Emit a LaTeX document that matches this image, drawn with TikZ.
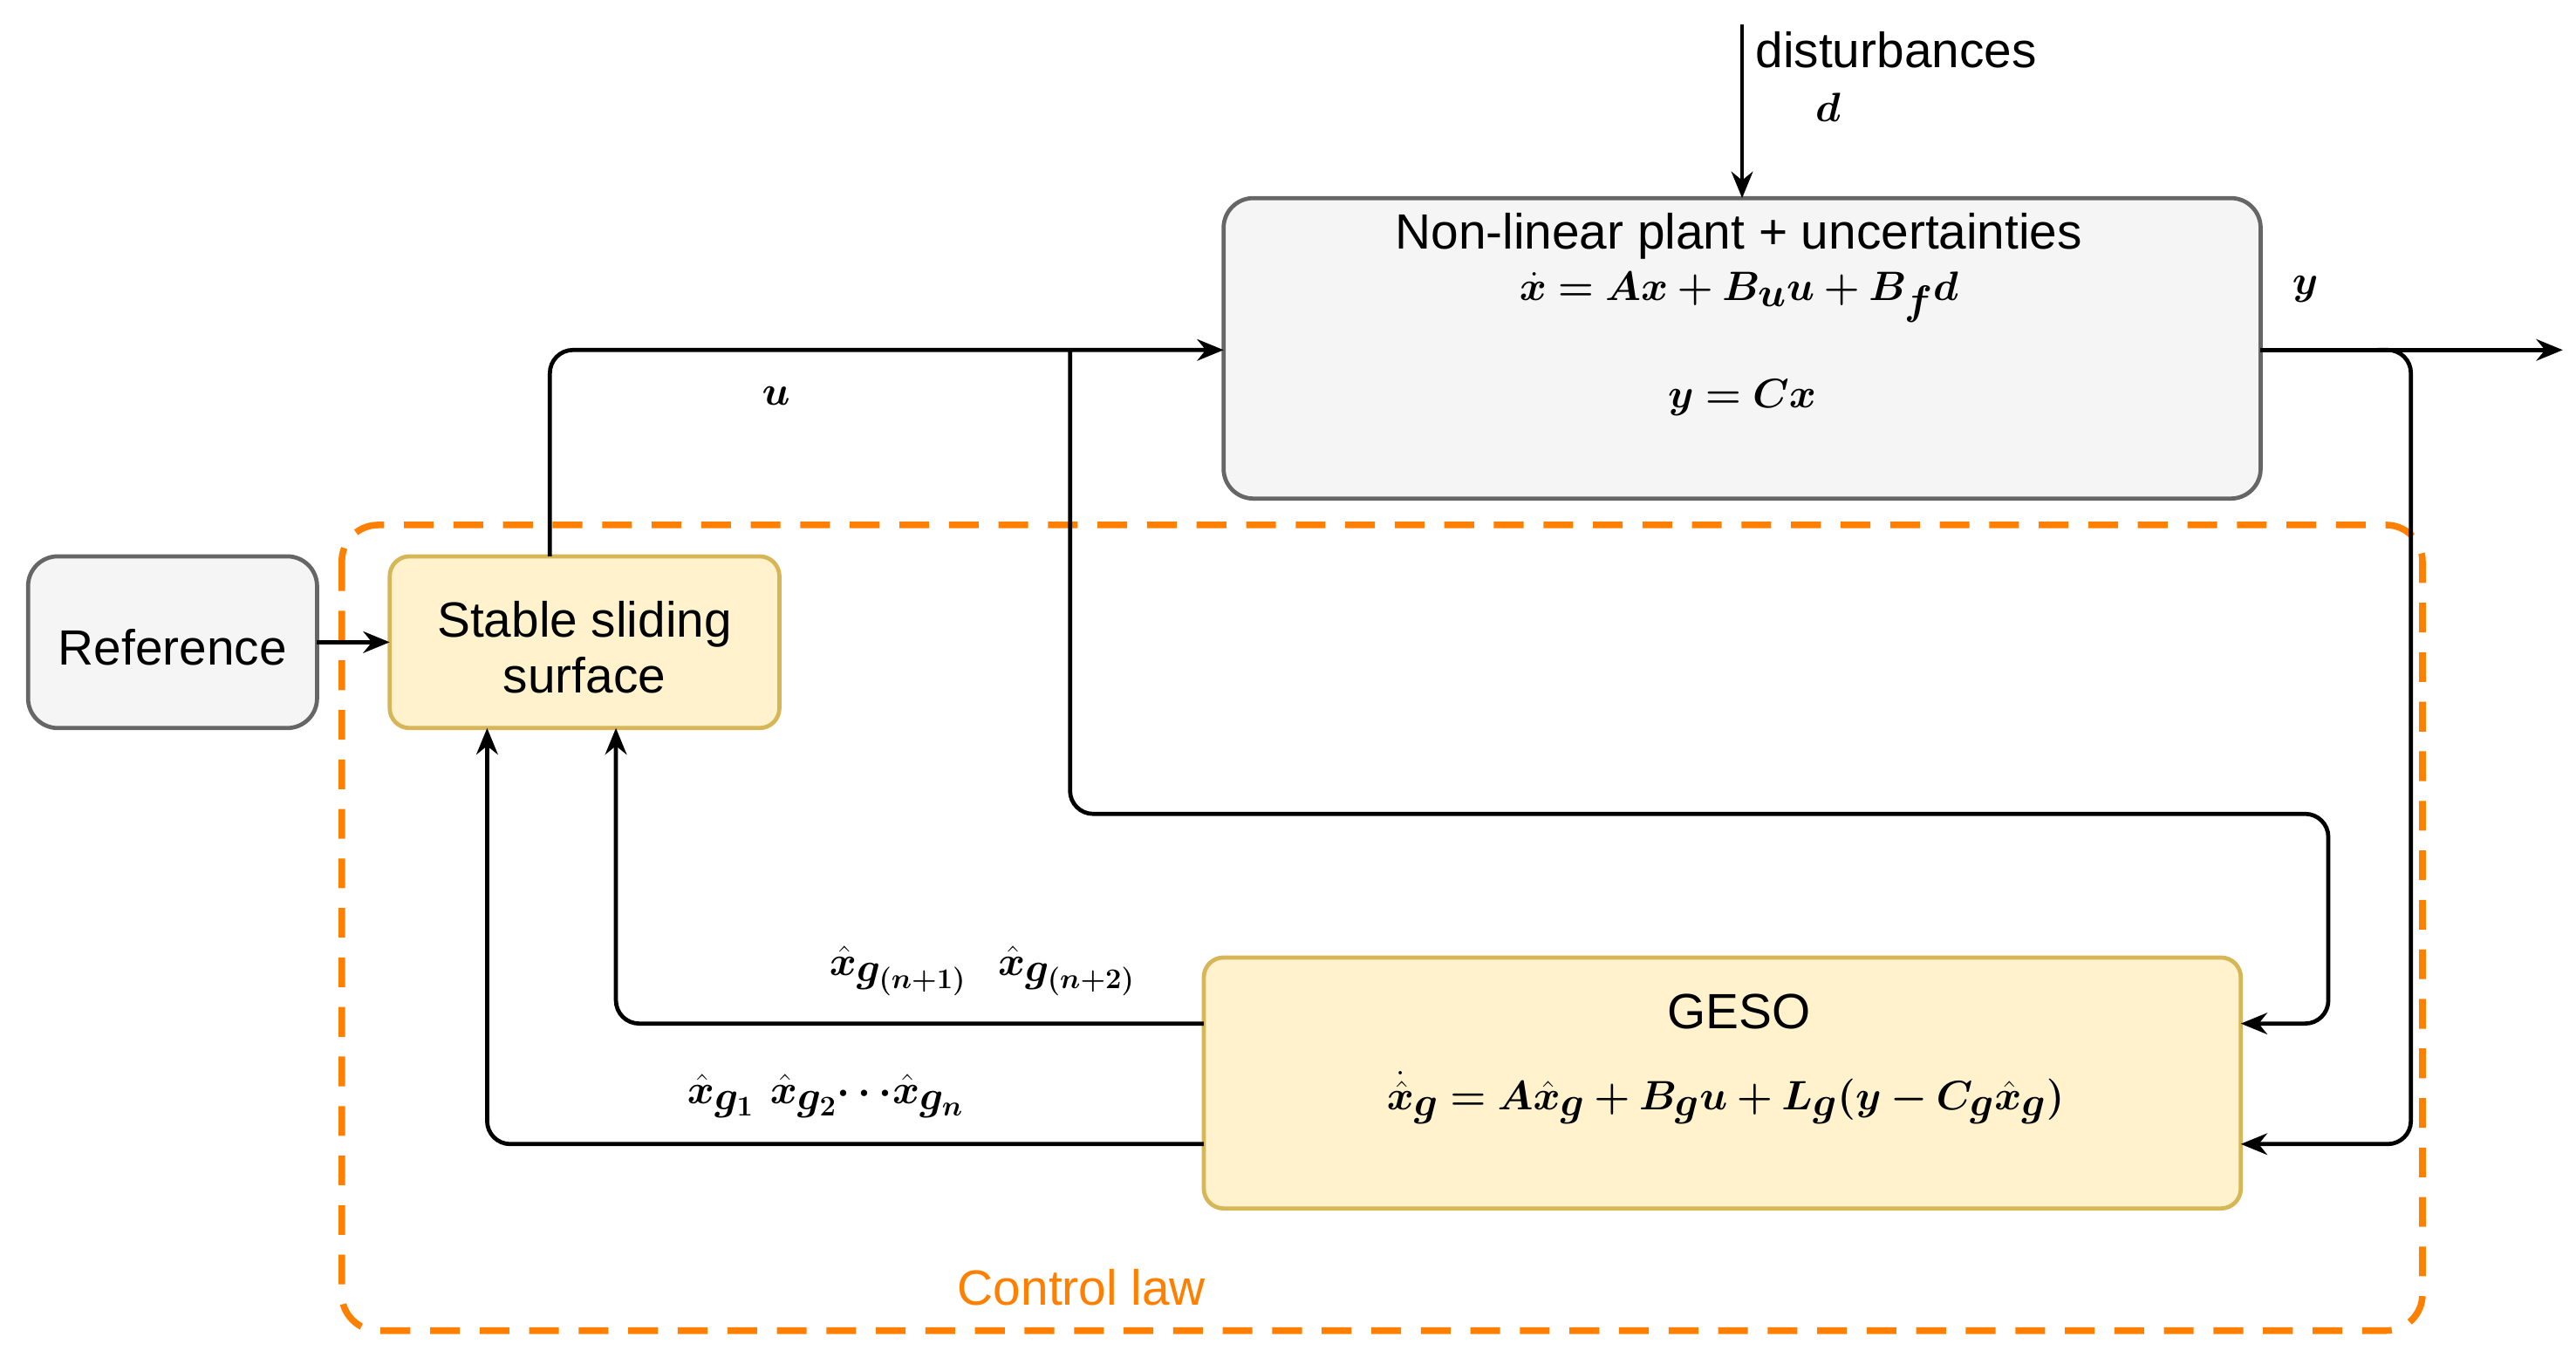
\documentclass[tikz,border=0pt]{standalone}
\usepackage{amsmath,bm}
\usepackage{fontspec}
\setmainfont{Liberation Sans}
\usetikzlibrary{arrows.meta}
\definecolor{gfill}{HTML}{F5F5F5}\definecolor{gdraw}{HTML}{666666}
\definecolor{yfill}{HTML}{FFF2CC}\definecolor{ydraw}{HTML}{D6B656}
\definecolor{org}{HTML}{FF8000}
\begin{document}
\begin{tikzpicture}[x=1pt,y=-1pt,
 box/.style={draw=gdraw,fill=gfill,line width=2.5pt,rounded corners=18pt,inner sep=0},
 ybox/.style={draw=ydraw,fill=yfill,line width=2.5pt,rounded corners=12pt,inner sep=0},
 con/.style={line width=2.5pt,-{Stealth[length=16pt,width=13pt]},rounded corners=14pt},
 ln/.style={line width=2.5pt,rounded corners=14pt},
 txt/.style={font=\fontsize{30}{34}\selectfont,align=center,inner sep=0},
 mth/.style={font=\fontsize{34}{38}\selectfont,inner sep=0}]
\useasboundingbox (0,0) rectangle (1560,826);
\draw[org,line width=4pt,dash pattern=on 18pt off 12pt,rounded corners=22pt] (207,318) rectangle (1467,806);
\node[txt,text=org] (cl) at (655,780) {Control law};
\path[box] (741,120) rectangle (1369,302);
\node (plant) at (1055,211) [minimum width=628pt,minimum height=182pt] {};
\node[txt] at (1053,143) {Non-linear plant + uncertainties};
\node[mth] at (1053,180) {$\bm{\dot x = Ax + B_u u + B_f d}$};
\node[mth] at (1055,241) {$\bm{y = Cx}$};
\path[box] (17,337) rectangle (192,441);
\node[txt] (ref) at (104.5,392) {Reference};
\coordinate (refE) at (192,389);
\path[ybox] (236,337) rectangle (472,441);
\node[txt] (ss) at (354,392) {Stable sliding\\surface};
\coordinate (ssW) at (236,389);
\path[ybox] (729,580) rectangle (1357,732);
\node[txt] at (1053,613) {GESO};
\node[mth] at (1045,665) {$\bm{\dot{\hat x}_g = A\hat x_g + B_g u + L_g(y - C_g\hat x_g)}$};
\coordinate (dtop) at (1055,15);
\coordinate (pN) at (1055,120);
\coordinate (pW) at (741,212);
\coordinate (pE) at (1369,212);
\coordinate (out) at (1552,212);
\coordinate (ssN) at (333,337);
\coordinate (br) at (648,212);
\coordinate (g1) at (1357,620);
\coordinate (g2) at (1357,693);
\coordinate (gw1) at (729,620);
\coordinate (gw2) at (729,693);
\coordinate (s1) at (373,441);
\coordinate (s2) at (295,441);
\draw[con] (dtop) -- (pN);
\node[txt,anchor=west] at (1063,30) {disturbances};
\node[mth] at (1107,65) {$\bm d$};
\draw[con] (pE) -- (out);
\node[mth] at (1396,175) {$\bm y$};
\draw[con] (ssN) |- (pW);
\node[mth] at (470,240) {$\bm u$};
\draw[con] (br) -- (648,493) -- (1410,493) |- (g1);
\draw[con] (1440,212) -- (1460,212) |- (g2);
\draw[con] (refE) -- (ssW);
\draw[con] (gw1) -| (s1);
\draw[con] (gw2) -| (s2);
\node[mth] at (595,588) {$\bm{\hat x_{g_{(n+1)}}\ \ \hat x_{g_{(n+2)}}}$};
\node[mth] at (500,664) {$\bm{\hat x_{g_1}\ \hat x_{g_2}\cdots\hat x_{g_n}}$};
\end{tikzpicture}
\end{document}
